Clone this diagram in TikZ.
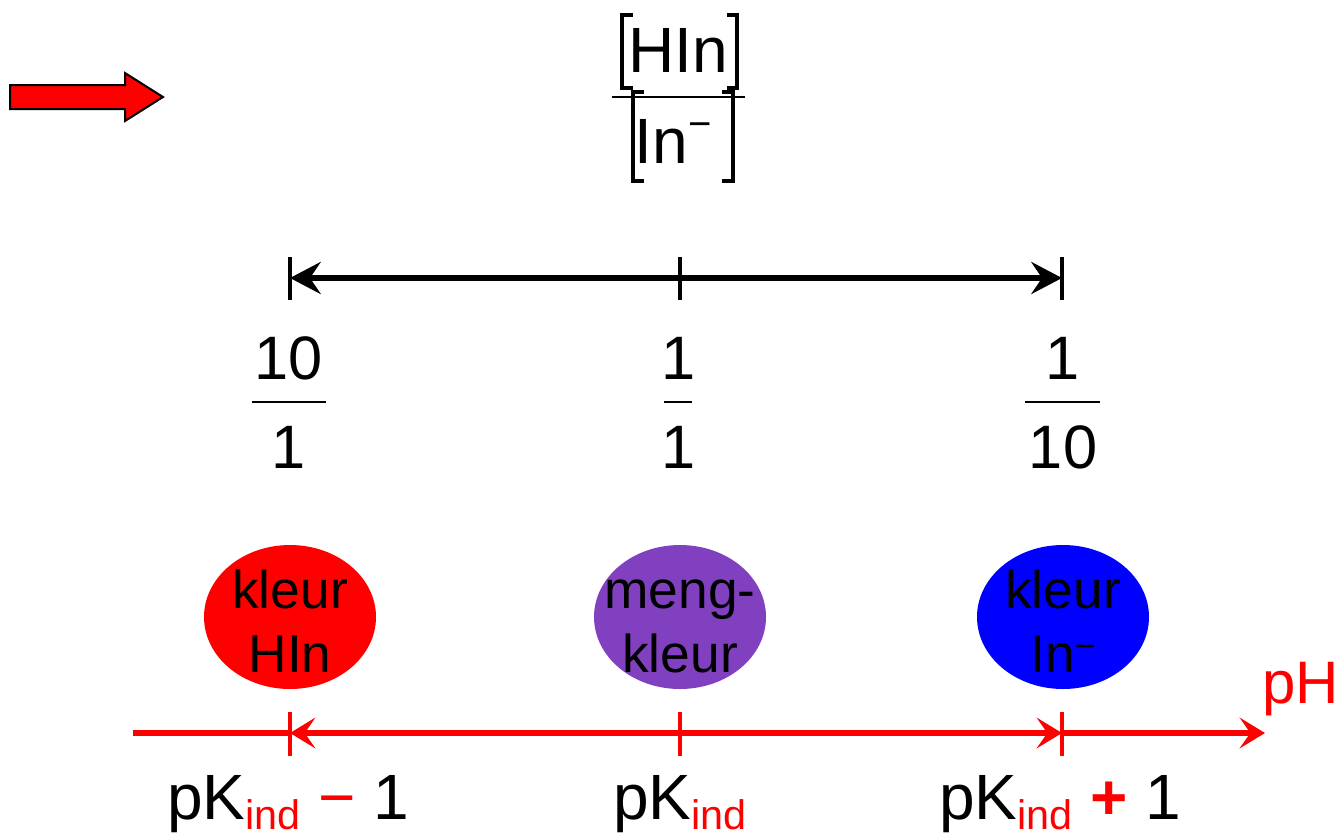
\documentclass[tikz,border=0pt]{standalone}
\usepackage{fontspec}
\setmainfont{Liberation Sans}
\usetikzlibrary{arrows.meta,shapes.geometric}
\definecolor{mypurple}{RGB}{128,64,192}
\definecolor{myred}{RGB}{255,0,0}
\definecolor{myblue}{RGB}{0,0,255}
\begin{document}
\begin{tikzpicture}[x=0.75pt,y=-0.75pt,
  txt/.style={inner sep=0pt, font=\fontsize{#1}{#1}\selectfont},
  bracket/.style={line width=3.6pt, line cap=butt, line join=miter},
  fracbar/.style={line width=1.8pt},
  blackaxis/.style={line width=4.2pt, arrows={Stealth[length=23pt,width=24pt,inset=8pt]-Stealth[length=23pt,width=24pt,inset=8pt]}},
  blacktick/.style={line width=3pt},
  redline/.style={myred, line width=4.5pt},
  redtip/.style={myred, line width=4.5pt, -{Stealth[length=19pt,width=23pt,inset=8pt]}},
  redtipstart/.style={myred, line width=4.5pt, {Stealth[length=19pt,width=23pt,inset=8pt]}-},
  redtick/.style={myred, line width=3.4pt},
  blob/.style={ellipse, minimum width=129pt, minimum height=108pt, inner sep=0pt},
  blobtext/.style={inner sep=0pt, align=center, font=\fontsize{40}{48}\selectfont}]
\path[use as bounding box] (0,0) rectangle (1342,836);

% block arrow
\filldraw[fill=myred, draw=black, line width=1.5pt, line join=miter]
  (10,85) -- (125,85) -- (125,73) -- (163,97) -- (125,121) -- (125,109) -- (10,109) -- cycle;

% top fraction
\node[txt=48, anchor=base] (hin) at (678,72) {HIn};
\node[txt=48, anchor=base] (inm) at (673,163) {In\raisebox{19pt}{\fontsize{30}{30}\selectfont −}};
\draw[bracket] (633,15) -- (622,15) -- (622,88) -- (633,88);
\draw[bracket] (727,15) -- (737,15) -- (737,88) -- (727,88);
\draw[bracket] (644,92) -- (633,92) -- (633,181) -- (644,181);
\draw[bracket] (722,92) -- (733,92) -- (733,181) -- (722,181);
\draw[fracbar] (612,97) -- (745,97);

% black ratio axis
\coordinate (bL) at (290,278);
\coordinate (bM) at (680,278);
\coordinate (bR) at (1062,278);
\draw[blackaxis] (bL) -- (bR);
\draw[blacktick] (bL) ++(0,-21) -- ++(0,43);
\draw[blacktick] (bM) ++(0,-21) -- ++(0,43);
\draw[blacktick] (bR) ++(0,-21) -- ++(0,43);

% ratios
\node[txt=46, anchor=base] (n1) at (289,379) {10};
\node[txt=46, anchor=base] (d1) at (289,468) {1};
\draw[fracbar] (252,402) -- (326,402);
\node[txt=46, anchor=base] (n2) at (679,379) {1};
\node[txt=46, anchor=base] (d2) at (679,468) {1};
\draw[fracbar] (664,402) -- (692,402);
\node[txt=46, anchor=base] (n3) at (1063,379) {1};
\node[txt=46, anchor=base] (d3) at (1063,468) {10};
\draw[fracbar] (1025,402) -- (1100,402);

% colour blobs
\node[blob, fill=myred] (cHIn) at (290,617) {};
\node[blob, fill=mypurple] (cMix) at (680,617) {};
\node[blob, fill=myblue] (cIn) at (1063,617) {};
\node[blobtext, anchor=base] (tHIn1) at (cHIn.center |- 0,608) {kleur};
\node[blobtext, anchor=base] (tHIn2) at (cHIn.center |- 0,672) {HIn};
\node[blobtext, anchor=base] (tMix1) at (cMix.center |- 0,608) {meng-};
\node[blobtext, anchor=base] (tMix2) at (cMix.center |- 0,672) {kleur};
\node[blobtext, anchor=base] (tIn1) at (cIn.center |- 0,608) {kleur};
\node[blobtext, anchor=base] (tIn2) at (cIn.center |- 0,672) {In\raisebox{10pt}{\fontsize{27}{27}\selectfont −}};

% red pH axis
\coordinate (rS) at (133,733);
\coordinate (rL) at (290,733);
\coordinate (rM) at (680,733);
\coordinate (rR) at (1062,733);
\coordinate (rE) at (1265,733);
\draw[redline] (rS) -- (rL);
\draw[redtipstart] (rL) -- (rM);
\draw[redtip] (rM) -- (rR);
\draw[redtip] (rR) -- (rE);
\draw[redtick] (rL) ++(0,-21) -- ++(0,44);
\draw[redtick] (rM) ++(0,-21) -- ++(0,44);
\draw[redtick] (rR) ++(0,-21) -- ++(0,44);
\node[txt=45, anchor=base west, text=myred] (ph) at (1262,703) {pH};

% pK labels
\node[txt=48, anchor=base] (pkL) at (288,819)
  {pK\textcolor{myred}{\raisebox{-8pt}{\fontsize{31}{31}\selectfont ind}} \textcolor{myred}{−} 1};
\node[txt=48, anchor=base] (pkM) at (680,819)
  {pK\textcolor{myred}{\raisebox{-8pt}{\fontsize{31}{31}\selectfont ind}}};
\node[txt=48, anchor=base] (pkR) at (1060,819)
  {pK\textcolor{myred}{\raisebox{-8pt}{\fontsize{31}{31}\selectfont ind}} \textcolor{myred}{\textbf{+}} 1};
\end{tikzpicture}
\end{document}
